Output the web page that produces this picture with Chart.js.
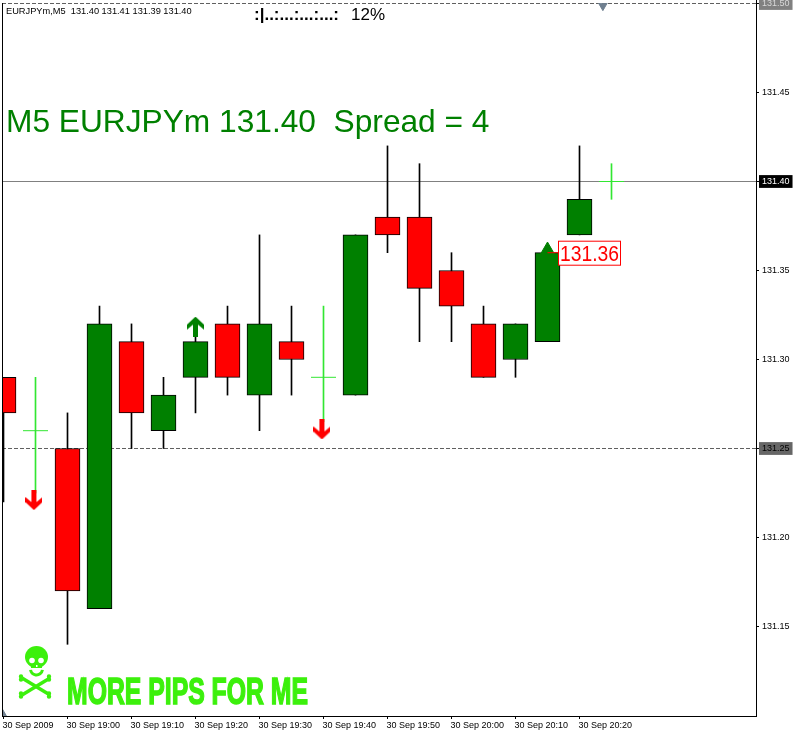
<!DOCTYPE html>
<html>
<head>
<meta charset="utf-8">
<title>EURJPYm M5</title>
<script src="https://cdn.jsdelivr.net/npm/chart.js@4/dist/chart.umd.min.js"></script>
<style>
    html, body { margin: 0; padding: 0; background: #ffffff; }
    canvas { display: block; }
</style>
</head>
<body>
<canvas id="chart" width="795" height="731"></canvas>
<script>
// candle values, one entry per 5 minute bar starting 18:50
const barIndex = [0, 1, 2, 3, 4, 5, 6, 7, 8, 9, 10, 11, 12, 13, 14, 15, 16, 17, 18, 19];
const opens  = [131.29, 131.26, 131.25, 131.16, 131.31, 131.26, 131.29, 131.32, 131.28, 131.31, 131.29, 131.28, 131.38, 131.38, 131.35, 131.32, 131.30, 131.31, 131.37, 131.40];
const closes = [131.27, 131.26, 131.17, 131.32, 131.27, 131.28, 131.31, 131.29, 131.32, 131.30, 131.29, 131.37, 131.37, 131.34, 131.33, 131.29, 131.32, 131.36, 131.39, 131.40];
const highs  = [131.29, 131.29, 131.27, 131.33, 131.32, 131.29, 131.32, 131.33, 131.37, 131.33, 131.33, 131.37, 131.42, 131.41, 131.36, 131.33, 131.32, 131.36, 131.42, 131.41];
const lows   = [131.22, 131.225, 131.14, 131.16, 131.25, 131.25, 131.27, 131.28, 131.26, 131.28, 131.265, 131.28, 131.36, 131.31, 131.31, 131.29, 131.29, 131.31, 131.37, 131.39];

// axis labels
const timeTickBars = [0, 2, 4, 6, 8, 10, 12, 14, 16, 18];
const timeTickLabels = ["30 Sep 2009", "30 Sep 19:00", "30 Sep 19:10", "30 Sep 19:20", "30 Sep 19:30", "30 Sep 19:40", "30 Sep 19:50", "30 Sep 20:00", "30 Sep 20:10", "30 Sep 20:20"];
const priceTicks = [131.50, 131.45, 131.40, 131.35, 131.30, 131.25, 131.20, 131.15];

// signal arrows
const upArrowBars = [6];
const upArrowPrices = [131.3185];
const downArrowBars = [0.95, 9.95];
const downArrowPrices = [131.221, 131.2607];
const houseBars = [17];
const housePrices = [131.3615];

const bidPrice = 131.40;
const levelPrice = 131.25;
const topPrice = 131.50;
const notePrice = 131.36;
const noteBar = 17;

const GREEN = "#008000";
const RED = "#ff0000";
const LIME = "#32e632";
const SKULL = "#3cf00c";
const PX_PER_BAR = 32;
const PX_PER_PRICE = 1780;

// scale limits so that bar 0 lands on x=3.5 and 131.50 on y=3.5
const xMin = -1.5 / PX_PER_BAR;
const xMax = xMin + 754 / PX_PER_BAR;
const yMax = topPrice + 0.5 / PX_PER_PRICE;
const yMin = yMax - 713 / PX_PER_PRICE;

const bodyBars = barIndex.filter(i => opens[i] !== closes[i]);
const dojiBars = barIndex.filter(i => opens[i] === closes[i]);

// little pixel style arrow used as point style
function makeArrow(color, up) {
    const c = document.createElement("canvas");
    c.width = 17;
    c.height = 20;
    const g = c.getContext("2d");
    g.fillStyle = color;
    g.save();
    if (!up) {
        g.translate(0, 20);
        g.scale(1, -1);
    }
    g.beginPath();
    g.moveTo(8.5, 0);
    g.lineTo(17, 8);
    g.lineTo(17, 13);
    g.lineTo(11, 8);
    g.lineTo(11, 20);
    g.lineTo(6, 20);
    g.lineTo(6, 8);
    g.lineTo(0, 13);
    g.lineTo(0, 8);
    g.closePath();
    g.fill();
    g.restore();
    return c;
}

function level(price) {
    return [{ x: xMin, y: price }, { x: xMax, y: price }];
}

// the scales add room for half a label by default, the frame here has none
function noScalePadding(s) {
    s.paddingLeft = 0;
    s.paddingRight = 0;
    s.paddingTop = 0;
    s.paddingBottom = 0;
}

function drawSkull(ctx) {
    ctx.save();
    ctx.fillStyle = SKULL;
    ctx.strokeStyle = SKULL;
    // bones
    ctx.lineWidth = 3.5;
    [[22, 678, 50, 695], [50, 678, 22, 695]].forEach(b => {
        ctx.beginPath();
        ctx.moveTo(b[0], b[1]);
        ctx.lineTo(b[2], b[3]);
        ctx.stroke();
        [[b[0], b[1]], [b[2], b[3]]].forEach(p => {
            ctx.beginPath();
            ctx.arc(p[0] - 1, p[1] - 1.5, 2.2, 0, Math.PI * 2);
            ctx.arc(p[0] - 1, p[1] + 1.5, 2.2, 0, Math.PI * 2);
            ctx.fill();
        });
    });
    // cranium
    ctx.beginPath();
    ctx.ellipse(36.5, 657, 11.5, 11, 0, 0, Math.PI * 2);
    ctx.fill();
    ctx.fillRect(31, 660, 11, 8);
    // jaw
    ctx.lineWidth = 3;
    ctx.beginPath();
    ctx.arc(36.5, 669, 6, 0.15, Math.PI - 0.15);
    ctx.stroke();
    // eyes and nose
    ctx.fillStyle = "#ffffff";
    [32, 41].forEach(x => {
        ctx.beginPath();
        ctx.arc(x, 660.5, 2.8, 0, Math.PI * 2);
        ctx.fill();
    });
    ctx.fillRect(36, 665, 1.5, 2);
    ctx.restore();
}

// texts and frame that are not part of a scale
const overlay = {
    id: "overlay",
    afterDatasetsDraw(chart) {
        const ctx = chart.ctx;
        const area = chart.chartArea;
        const x = chart.scales.x;
        const y = chart.scales.y;

        ctx.save();
        ctx.textBaseline = "alphabetic";
        ctx.textAlign = "left";

        // frame
        ctx.fillStyle = "#000000";
        ctx.fillRect(2, area.top, 1, area.bottom - area.top + 1);
        ctx.fillRect(area.left, area.bottom, area.right - area.left + 1, 1);
        ctx.fillRect(area.right, 0, 1, area.bottom + 1);

        ctx.fillStyle = "#000000";
        ctx.font = "9.25px 'Liberation Sans'";
        ctx.fillText("EURJPYm,M5  131.40 131.41 131.39 131.40", 6, 14);

        ctx.font = "bold 17px 'Liberation Sans'";
        ctx.fillText(":|..:...:...:...:", 254, 20);
        ctx.font = "17px 'Liberation Sans'";
        ctx.fillText("12%", 351, 20);

        ctx.fillStyle = GREEN;
        ctx.font = "31.7px 'Liberation Sans'";
        ctx.fillText("M5 EURJPYm 131.40  Spread = 4", 6, 132);

        // price note next to the last signal
        const noteY = y.getPixelForValue(notePrice);
        const noteX = x.getPixelForValue(noteBar);
        ctx.strokeStyle = RED;
        ctx.lineWidth = 1;
        ctx.beginPath();
        ctx.moveTo(noteX, noteY);
        ctx.lineTo(noteX + 11, noteY);
        ctx.stroke();
        ctx.fillStyle = "#ffffff";
        ctx.fillRect(558.5, noteY - 11.5, 62, 24);
        ctx.strokeRect(558.5, noteY - 11.5, 62, 24);
        ctx.fillStyle = RED;
        ctx.font = "22px 'Liberation Sans'";
        ctx.fillText(notePrice.toFixed(2), 560, noteY + 8, 59);

        drawSkull(ctx);
        ctx.fillStyle = SKULL;
        ctx.strokeStyle = SKULL;
        ctx.lineWidth = 1.5;
        ctx.font = "bold 37px 'Liberation Sans Narrow', 'Liberation Sans'";
        ctx.fillText("MORE PIPS FOR ME", 67, 704, 241);
        ctx.strokeText("MORE PIPS FOR ME", 67, 704, 241);
        ctx.restore();
    }
};

new Chart(document.getElementById("chart"), {
    type: "bar",
    plugins: [overlay],
    data: {
        datasets: [
            {
                type: "scatter",
                order: 0,
                data: upArrowBars.map((b, i) => ({ x: b, y: upArrowPrices[i] })),
                pointStyle: makeArrow(GREEN, true)
            },
            {
                type: "scatter",
                order: 0,
                data: downArrowBars.map((b, i) => ({ x: b, y: downArrowPrices[i] })),
                pointStyle: makeArrow(RED, false)
            },
            {
                type: "scatter",
                order: 1,
                data: houseBars.map((b, i) => ({ x: b, y: housePrices[i] })),
                pointStyle: "triangle",
                pointRadius: 8,
                backgroundColor: GREEN,
                borderColor: GREEN
            },
            {
                type: "scatter",
                order: 2,
                data: dojiBars.map(i => ({ x: i, y: closes[i] })),
                pointStyle: "line",
                pointRadius: 12.5,
                borderColor: LIME,
                borderWidth: 1
            },
            {
                // bodies
                order: 3,
                grouped: false,
                data: bodyBars.map(i => ({ x: i, y: [opens[i], closes[i]] })),
                backgroundColor: bodyBars.map(i => closes[i] > opens[i] ? GREEN : RED),
                borderColor: "#000000",
                borderWidth: 1,
                borderSkipped: false,
                barThickness: 25
            },
            {
                // wicks
                order: 4,
                grouped: false,
                data: barIndex.map(i => ({ x: i, y: [lows[i], highs[i]] })),
                backgroundColor: barIndex.map(i => opens[i] === closes[i] ? LIME : "#000000"),
                borderWidth: 0,
                barThickness: 1
            },
            {
                // chart shift markers
                type: "scatter",
                order: 5,
                data: [{ x: 18.73, y: 131.4988 }, { x: xMin, y: yMin + 0.0015 }],
                pointStyle: "triangle",
                pointRadius: 5,
                rotation: [180, 0],
                pointRotation: [180, 0],
                backgroundColor: "#708090",
                borderColor: "#708090"
            },
            {
                type: "line",
                order: 6,
                data: level(bidPrice),
                borderColor: "#808080",
                borderWidth: 1,
                pointRadius: 0
            },
            {
                type: "line",
                order: 6,
                data: level(levelPrice),
                borderColor: "#606060",
                borderWidth: 1,
                borderDash: [4, 2],
                pointRadius: 0
            },
            {
                type: "line",
                order: 6,
                data: level(topPrice),
                borderColor: "#606060",
                borderWidth: 1,
                borderDash: [4, 2],
                pointRadius: 0
            }
        ]
    },
    options: {
        responsive: false,
        animation: false,
        events: [],
        layout: { autoPadding: false, padding: { left: 2, top: 3 } },
        plugins: { legend: { display: false }, tooltip: { enabled: false } },
        scales: {
            x: {
                type: "linear",
                min: xMin,
                max: xMax,
                offset: false,
                grid: { offset: false, drawOnChartArea: false, tickLength: 3, tickColor: "#000000" },
                border: { display: false },
                afterBuildTicks: s => { s.ticks = timeTickBars.map(v => ({ value: v })); },
                afterFit: s => { s.height = 15; noScalePadding(s); },
                ticks: {
                    autoSkip: false,
                    maxRotation: 0,
                    align: "start",
                    labelOffset: -1,
                    padding: 1,
                    color: "#000000",
                    font: { family: "'Liberation Sans'", size: 9 },
                    callback: v => timeTickLabels[timeTickBars.indexOf(v)]
                }
            },
            y: {
                position: "right",
                min: yMin,
                max: yMax,
                grid: { drawOnChartArea: false, tickLength: 3, tickColor: "#000000" },
                border: { display: false },
                afterBuildTicks: s => { s.ticks = priceTicks.map(v => ({ value: v })); },
                afterFit: s => { s.width = 39; noScalePadding(s); },
                ticks: {
                    padding: 3,
                    font: { family: "'Liberation Sans'", size: 9 },
                    color: c => {
                        if (c.tick.value === bidPrice) return "#ffffff";
                        if (c.tick.value === topPrice) return "#d8d8d8";
                        return "#000000";
                    },
                    showLabelBackdrop: c => [bidPrice, levelPrice, topPrice].includes(c.tick.value),
                    backdropColor: c => {
                        if (c.tick.value === bidPrice) return "#000000";
                        if (c.tick.value === levelPrice) return "#666666";
                        return "#808080";
                    },
                    backdropPadding: { top: 1, bottom: 1, left: 3, right: 3 },
                    callback: v => v.toFixed(2)
                }
            }
        }
    }
});
</script>
</body>
</html>
